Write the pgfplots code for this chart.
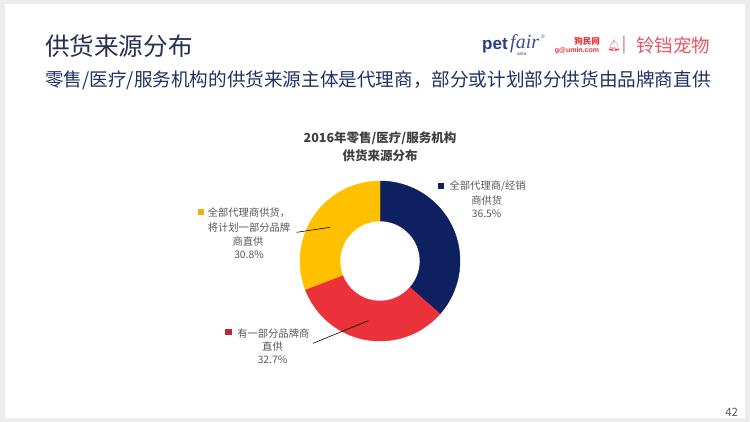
\documentclass[border=0pt]{standalone}
\usepackage{pgfplots}
\pgfplotsset{compat=1.18}
\usepackage{fontspec}
\setmainfont{Noto Sans CJK SC}
\newfontfamily\lsans{Liberation Sans}
\newfontfamily\lserif{Liberation Serif}
\newfontfamily\emoji{Noto Emoji}

\definecolor{cnavy}{RGB}{14,32,96}
\definecolor{cred}{RGB}{235,50,58}
\definecolor{cyellow}{RGB}{255,192,0}
\definecolor{titlec}{RGB}{38,46,84}
\definecolor{subc}{RGB}{31,50,100}
\definecolor{lblc}{RGB}{89,89,89}
\definecolor{ctitle}{RGB}{64,64,64}
\definecolor{pinkc}{RGB}{232,84,100}
\definecolor{petblue}{RGB}{40,60,140}
\definecolor{bgout}{RGB}{236,236,236}

\pgfplotsset{
  donut/.style={
    only marks, scatter, mark=*, mark size=0pt,
    mark options={draw opacity=0, fill opacity=0},
    visualization depends on={\thisrow{pct}\as\pct},
    visualization depends on={\thisrow{cum}\as\cum},
    scatter/@pre marker code/.code={%
      \pgfmathsetmacro\aA{90-3.6*\cum}%
      \pgfmathsetmacro\aB{90-3.6*(\cum+\pct)}%
      \fill[#1, fill opacity=1, draw opacity=1] (\aA:80bp) arc[start angle=\aA,end angle=\aB,radius=80bp]
        -- (\aB:40bp) arc[start angle=\aB,end angle=\aA,radius=40bp] -- cycle;
    },
    scatter/@post marker code/.code={},
  }
}

\begin{document}
\begin{tikzpicture}
\fill[bgout] (0,0) rectangle (750bp,422bp);
\fill[white] (5bp,4bp) rectangle (745bp,418bp);
\begin{axis}[
  at={(0,0)}, anchor=south west,
  scale only axis, width=750bp, height=422bp,
  xmin=0, xmax=750, ymin=0, ymax=422, y dir=reverse,
  hide axis, clip=false, clip marker paths=true,
]
% donut slices: x y pct cum
\addplot[donut=cnavy] table {
x y pct cum
380 261 36.5 0
};
\addplot[donut=cred] table {
x y pct cum
380 261 32.7 36.5
};
\addplot[donut=cyellow] table {
x y pct cum
380 261 30.8 69.2
};

% leader lines
\addplot[black, line width=0.6pt] coordinates {(296.7,232.3) (330,227.3)};
\addplot[black, line width=0.6pt] coordinates {(313,343.3) (368.3,320.7)};

% legend keys
\addplot[only marks, mark=square*, mark size=2.8bp, color=cnavy] coordinates {(440.7,185.5)};
\addplot[only marks, mark=square*, mark size=2.8bp, color=cyellow!75!brown] coordinates {(200.7,211.5)};
\addplot[only marks, mark=square*, mark size=2.8bp, color=cred!80!black] coordinates {(228.3,331.5)};

% titles
\node[anchor=west, inner sep=0pt, text=titlec, font=\fontsize{24.6bp}{28bp}\selectfont] at (axis cs:45,46.5) {供货来源分布};
\node[anchor=west, inner sep=0pt, text=subc, font=\fontsize{18.6bp}{22bp}\selectfont] at (axis cs:45,80) {零售/医疗/服务机构的供货来源主体是代理商，部分或计划部分供货由品牌商直供};

% chart title
\node[inner sep=0pt, text=ctitle, font=\fontsize{12.5bp}{15bp}\selectfont\bfseries] at (axis cs:380,138) {2016年零售/医疗/服务机构};
\node[inner sep=0pt, text=ctitle, font=\fontsize{12.5bp}{15bp}\selectfont\bfseries] at (axis cs:380,155.7) {供货来源分布};

% labels
\begin{scope}[every node/.style={inner sep=0pt, text=lblc, font=\fontsize{10.3bp}{12bp}\selectfont}]
\node at (axis cs:487.7,186) {全部代理商/经销};
\node at (axis cs:486.7,201) {商供货};
\node at (axis cs:486.7,213.3) {36.5\%};

\node at (axis cs:249,212.5) {全部代理商供货，};
\node at (axis cs:249,227.5) {将计划一部分品牌};
\node at (axis cs:248,241.7) {商直供};
\node at (axis cs:249,254.7) {30.8\%};

\node at (axis cs:273.3,333.3) {有一部分品牌商};
\node at (axis cs:272.5,346.7) {直供};
\node at (axis cs:272.5,360) {32.7\%};
\end{scope}

% page number
\node[inner sep=0pt, text=lblc, font=\fontsize{11.5bp}{13bp}\selectfont] at (axis cs:731.7,412.5) {42};

% logos
\node[anchor=base west, inner sep=0pt, text=petblue, font=\lsans\bfseries\fontsize{17bp}{18bp}\selectfont] at (axis cs:482,50) {pet};
\node[anchor=base west, inner sep=0pt, text=petblue!70!gray, font=\lserif\itshape\fontsize{20bp}{20bp}\selectfont] at (axis cs:510,49) {fair};
\node[anchor=base west, inner sep=0pt, text=petblue!70!gray, font=\lsans\fontsize{5bp}{5bp}\selectfont] at (axis cs:517,56) {asia};
\node[anchor=base west, inner sep=0pt, text=petblue!70!gray, font=\lsans\fontsize{5bp}{5bp}\selectfont] at (axis cs:541,39) {®};
\node[anchor=base, inner sep=0pt, text=cred, font=\bfseries\fontsize{8.5bp}{9bp}\selectfont] at (axis cs:587,45) {狗民网};
\node[anchor=base, inner sep=0pt, text=cred, font=\lsans\bfseries\fontsize{7bp}{8bp}\selectfont] at (axis cs:577,53) {g@umin.com};
\node[inner sep=0pt, text=pinkc, font=\emoji\fontsize{11bp}{12bp}\selectfont] at (axis cs:614,46) {🔔};
\node[inner sep=0pt, text=pinkc!70!gray, font=\fontsize{16bp}{16bp}\selectfont] at (axis cs:624,45) {|};
\node[anchor=west, inner sep=0pt, text=pinkc, font=\fontsize{18.5bp}{19bp}\selectfont] at (axis cs:636,45) {铃铛宠物};
\end{axis}
\end{tikzpicture}
\end{document}
